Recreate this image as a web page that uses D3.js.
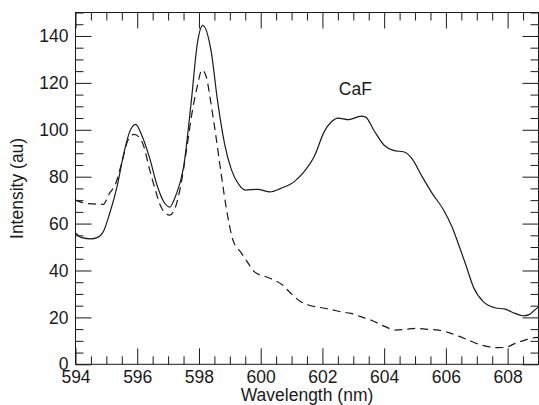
<!DOCTYPE html>
<html>
<head>
<meta charset="utf-8">
<script src="https://cdn.jsdelivr.net/npm/d3@7"></script>
<style>
  html, body { margin: 0; padding: 0; background: #fff; }
  svg { display: block; font-family: "Liberation Sans", Arial, Helvetica, sans-serif; }
</style>
</head>
<body>
<svg id="chart" width="539" height="405"></svg>
<script>
// ---- Data ----
const solidWavelength = [594.0, 594.2, 594.5, 594.7, 594.9, 595.1, 595.35, 595.55, 595.75, 595.95,
  596.15, 596.4, 596.65, 596.85, 597.05, 597.25, 597.5, 597.75, 597.95, 598.12,
  598.4, 598.6, 598.83, 599.05, 599.3, 599.5, 599.9, 600.3, 600.65, 601.1,
  601.4, 601.75, 602.05, 602.3, 602.5, 602.85, 603.25, 603.4, 603.67, 604.0,
  604.3, 604.65, 604.9, 605.23, 605.55, 605.93, 606.2, 606.4, 606.63, 606.89,
  607.22, 607.59, 607.92, 608.24, 608.5, 608.7, 608.85, 609.0];
const solidIntensity = [56, 54, 53.5, 54, 56.5, 64, 76, 89, 99, 102.3,
  97.6, 88, 76, 69.5, 67, 72, 84, 112, 137, 144.5,
  133, 112.5, 94, 83, 76.5, 74.3, 74.6, 73.5, 75, 78,
  82, 89, 99, 103.5, 105, 104.3, 105.8, 105.4, 99.7, 93.4,
  91.2, 90.5, 87.7, 80, 73, 65.7, 58.5, 51.5, 43, 33,
  26.6, 24.1, 23.5, 21.7, 20.7, 21.2, 22.8, 24.5];

const dashedWavelength = [594.0, 594.4, 594.9, 595.1, 595.3, 595.52, 595.7, 595.9, 596.05, 596.22,
  596.38, 596.59, 596.77, 597.05, 597.24, 597.4, 597.61, 597.77, 597.94, 598.1,
  598.24, 598.38, 598.53, 598.7, 598.88, 599.1, 599.37, 599.55, 599.8, 600.17,
  600.44, 600.71, 600.98, 601.3, 601.57, 601.89, 602.27, 602.59, 602.92, 603.24,
  603.6, 603.99, 604.37, 604.69, 605.01, 605.39, 605.76, 606.09, 606.41, 606.73,
  607.05, 607.37, 607.64, 607.92, 608.24, 608.56, 608.77, 609.0];
const dashedIntensity = [70, 68.5, 68.2, 72.8, 77, 87, 95.5, 98, 97, 92.6,
  84.1, 74.2, 67.1, 63.6, 67.1, 75.6, 92.6, 106.8, 118.2, 125.5,
  122.4, 112, 99, 83, 67, 53, 47.5, 44, 39.4, 37.3,
  35.9, 33.8, 30.2, 26.7, 25.2, 24.3, 23.4, 22.4, 21.7, 20.3,
  18.7, 16.3, 14.6, 14.9, 15.3, 14.9, 14.6, 13.5, 12.0, 10.3,
  8.6, 7.5, 7.1, 7.2, 8.9, 10.3, 11.1, 11.5];

const xDomain = [594, 609];
const yDomain = [0, 150];
const xMajorTicks = [594, 596, 598, 600, 602, 604, 606, 608];
const xMinorStep = 0.5;
const yMajorTicks = [0, 20, 40, 60, 80, 100, 120, 140];
const yMinorStep = 5;
const xTitle = "Wavelength (nm)";
const yTitle = "Intensity (au)";
const annotation = { text: "CaF", x: 602.53, y: 115 };

// ---- Layout ----
const W = 539, H = 405;
const margin = { left: 75.5, right: 0.5, top: 12.5, bottom: 40.7 };
const iw = W - margin.left - margin.right;
const ih = H - margin.top - margin.bottom;
const FONT = 17.5;
const ink = "#1a1a1a";

const svg = d3.select("#chart");
const g = svg.append("g").attr("transform", `translate(${margin.left},${margin.top})`);

const x = d3.scaleLinear().domain(xDomain).range([0, iw]);
const y = d3.scaleLinear().domain(yDomain).range([ih, 0]);

const xMinor = d3.range(xDomain[0], xDomain[1] + 1e-9, xMinorStep).filter(v => !xMajorTicks.includes(v));
const yMinor = d3.range(yDomain[0], yDomain[1] + 1e-9, yMinorStep).filter(v => !yMajorTicks.includes(v));

function styleAxis(sel, labels) {
  sel.select(".domain").remove();
  sel.selectAll(".tick line").attr("stroke", ink).attr("stroke-width", 1);
  sel.selectAll(".tick text").attr("fill", ink).style("font-size", FONT + "px");
  if (!labels) sel.selectAll(".tick text").remove();
}

// bottom
g.append("g").attr("transform", `translate(0,${ih})`)
  .call(d3.axisBottom(x).tickValues(xMajorTicks).tickSize(-16).tickPadding(6).tickFormat(d3.format("d")))
  .call(s => styleAxis(s, true));
g.append("g").attr("transform", `translate(0,${ih})`)
  .call(d3.axisBottom(x).tickValues(xMinor).tickSize(-8))
  .call(s => styleAxis(s, false));
// top
g.append("g")
  .call(d3.axisTop(x).tickValues(xMajorTicks).tickSize(-16))
  .call(s => styleAxis(s, false));
g.append("g")
  .call(d3.axisTop(x).tickValues(xMinor).tickSize(-8))
  .call(s => styleAxis(s, false));
// left
g.append("g")
  .call(d3.axisLeft(y).tickValues(yMajorTicks).tickSize(-16).tickPadding(7).tickFormat(d3.format("d")))
  .call(s => styleAxis(s, true));
g.append("g")
  .call(d3.axisLeft(y).tickValues(yMinor).tickSize(-8))
  .call(s => styleAxis(s, false));
// right
g.append("g").attr("transform", `translate(${iw},0)`)
  .call(d3.axisRight(y).tickValues(yMajorTicks).tickSize(-16))
  .call(s => styleAxis(s, false));
g.append("g").attr("transform", `translate(${iw},0)`)
  .call(d3.axisRight(y).tickValues(yMinor).tickSize(-8))
  .call(s => styleAxis(s, false));

// frame
g.append("rect").attr("x", 0).attr("y", 0).attr("width", iw).attr("height", ih)
  .attr("fill", "none").attr("stroke", ink).attr("stroke-width", 1);

// lines
const line = d3.line().x(d => x(d[0])).y(d => y(d[1])).curve(d3.curveMonotoneX);
const solid = d3.zip(solidWavelength, solidIntensity);
const dashed = d3.zip(dashedWavelength, dashedIntensity);

svg.append("defs").append("clipPath").attr("id", "clip")
  .append("rect").attr("width", iw).attr("height", ih);

g.append("path").datum(solid).attr("d", line)
  .attr("fill", "none").attr("stroke", ink).attr("stroke-width", 1.2)
  .attr("clip-path", "url(#clip)");
g.append("path").datum(dashed).attr("d", line)
  .attr("fill", "none").attr("stroke", ink).attr("stroke-width", 1.2)
  .attr("stroke-dasharray", "8,5")
  .attr("clip-path", "url(#clip)");

// annotation
g.append("text").attr("x", x(annotation.x)).attr("y", y(annotation.y))
  .attr("fill", ink).style("font-size", FONT + "px").text(annotation.text);

// titles
svg.append("text").attr("x", margin.left + iw / 2).attr("y", 400.5)
  .attr("text-anchor", "middle").attr("fill", ink).style("font-size", FONT + "px").text(xTitle);
svg.append("text").attr("transform", `translate(23,${margin.top + ih / 2}) rotate(-90)`)
  .attr("text-anchor", "middle").attr("fill", ink).style("font-size", FONT + "px").text(yTitle);
</script>
</body>
</html>
